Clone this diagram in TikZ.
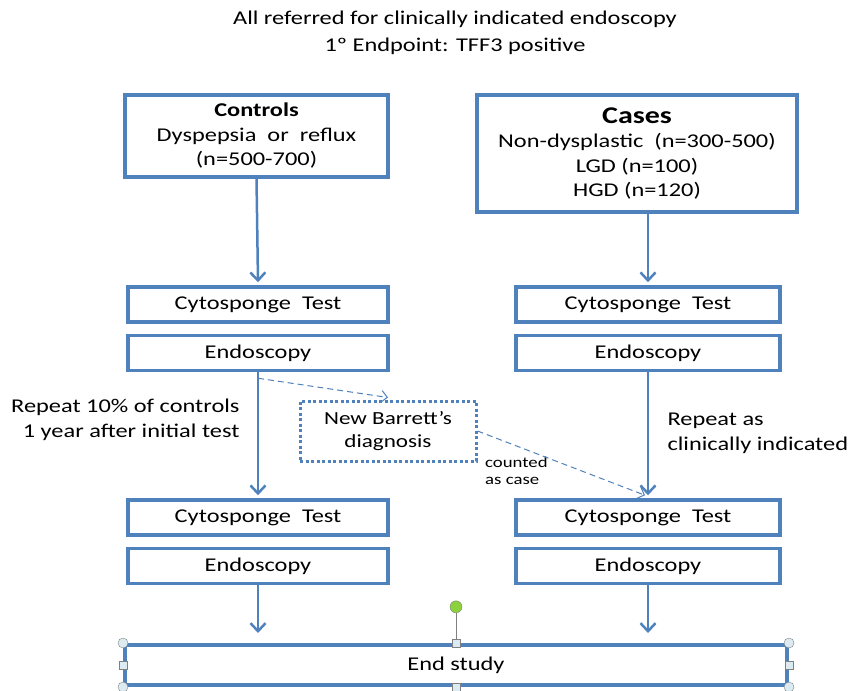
\documentclass[tikz,border=0pt]{standalone}
\usepackage{fontspec}
\setmainfont[FakeStretch=1.25]{Carlito}
\usetikzlibrary{positioning,arrows.meta}
\definecolor{boxblue}{RGB}{79,129,189}
\definecolor{handlefill}{RGB}{220,235,242}
\definecolor{rotgreen}{RGB}{140,210,60}
\tikzset{
    box/.style       = {draw=boxblue, line width=3.5pt, fill=white, align=center,
                        inner sep=2pt, font=\fontsize{19.5}{24.5}\selectfont},
    stepbox/.style   = {box, minimum width=260pt, minimum height=35pt},
    flow/.style      = {draw=boxblue, line width=2.5pt, -{Straight Barb[length=8pt,width=15pt,line width=2.5pt]}},
    dashflow/.style  = {draw=boxblue, line width=1pt, dash pattern=on 6pt off 4pt,
                        -{Straight Barb[length=6pt,width=12pt,line width=1pt]}},
    note/.style      = {align=center, font=\fontsize{19.5}{25}\selectfont},
    handlecirc/.style= {circle, draw=gray, fill=handlefill, minimum size=10pt, inner sep=0},
    handlesq/.style  = {rectangle, draw=gray, fill=handlefill, minimum size=8pt, inner sep=0},
}
\begin{document}
\begin{tikzpicture}[x=1pt, y=-1pt]
    \useasboundingbox (0,0) rectangle (853,690);
    % title
    \node[note, font=\fontsize{19.5}{27}\selectfont] (title) at (455,33) {All referred for clinically indicated endoscopy\\1º Endpoint: TFF3 positive};
    % groups
    \node[box, minimum width=263pt, minimum height=82pt] (ctrl) at (256.5,136)
        {\textbf{Controls}\\Dyspepsia\ \ or\ \ reflux\\(n=500-700)};
    \node[box, minimum width=320pt, minimum height=117pt] (cases) at (637,153.5)
        {{\fontsize{24}{26}\selectfont\textbf{Cases}}\\Non-dysplastic\ \ (n=300-500)\\LGD (n=100)\\HGD (n=120)};
    % first round
    \node[stepbox] (cytoL) at (258,304.5) {Cytosponge\ \ Test};
    \node[stepbox, below=10pt of cytoL] (endoL) {Endoscopy};
    \node[stepbox, minimum width=264pt] (cytoR) at (648,304.5) {Cytosponge\ \ Test};
    \node[stepbox, minimum width=264pt, below=10pt of cytoR] (endoR) {Endoscopy};
    % second round
    \node[stepbox] (cytoL2) at (258,517.5) {Cytosponge\ \ Test};
    \node[stepbox, below=10pt of cytoL2] (endoL2) {Endoscopy};
    \node[stepbox, minimum width=264pt] (cytoR2) at (648,517.5) {Cytosponge\ \ Test};
    \node[stepbox, minimum width=264pt, below=10pt of cytoR2] (endoR2) {Endoscopy};
    % new diagnosis
    \node[box, draw=boxblue, line width=3pt, dash pattern=on 3pt off 2.5pt, minimum width=176pt, minimum height=60pt,
          font=\fontsize{18.5}{23}\selectfont] (newB) at (388,431) {New Barrett’s\\diagnosis};
    % end
    \node[box, line width=4pt, minimum width=662pt, minimum height=40pt] (end) at (456,665) {End study};
    % side notes
    \node[note, align=right, anchor=east] (repL) at (243,420) {Repeat\ 10\% of controls\\1 year after initial test};
    \node[note, align=left, anchor=west] (repR) at (664,433) {Repeat\ as\\clinically indicated};
    \node[align=left, anchor=north west, inner sep=0, font=\fontsize{15}{17}\selectfont] (cnt) at (485,457) {counted\\as case};
    % arrows
    \draw[flow] (ctrl.south)   -- ([yshift=3pt]cytoL.north);
    \draw[flow] (cases.south -| cytoR.north) -- ([yshift=3pt]cytoR.north);
    \draw[flow] (endoL.south)  -- ([yshift=3pt]cytoL2.north);
    \draw[flow] (endoR.south)  -- ([yshift=3pt]cytoR2.north);
    \draw[flow] (endoL2.south) -- ([yshift=10pt]end.north -| endoL2.south);
    \draw[flow] (endoR2.south) -- ([yshift=10pt]end.north -| endoR2.south);
    \draw[dashflow] ([yshift=-6pt]endoL.south) -- ([yshift=2pt]newB.north);
    \draw[dashflow] (newB.east) -- ([xshift=-3pt,yshift=3pt]cytoR2.north);
    % selection handles
    \node[handlecirc, fill=rotgreen, minimum size=12pt, above=30pt of end.north] (rot) {};
    \draw[gray, line width=1pt] (rot) -- (end.north);
    \foreach \a in {north west, north east, south west, south east}
        \node[handlecirc] at (end.\a) {};
    \foreach \a in {north, south, west, east}
        \node[handlesq] at (end.\a) {};
\end{tikzpicture}
\end{document}
